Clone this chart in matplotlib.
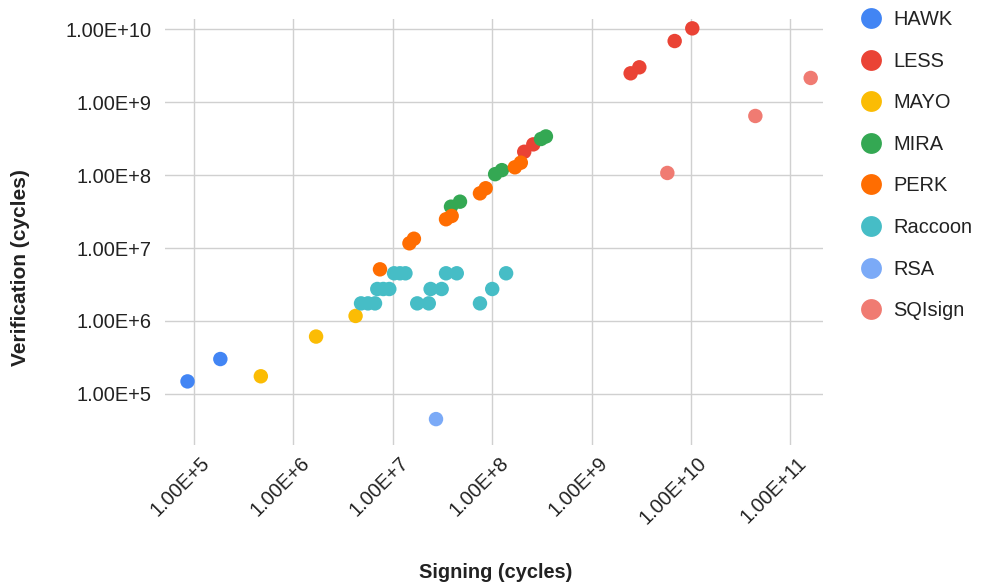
import matplotlib
matplotlib.use("Agg")
import matplotlib.pyplot as plt
from matplotlib.lines import Line2D
from matplotlib.transforms import ScaledTranslation

plt.rcParams['font.family'] = ['Liberation Sans', 'DejaVu Sans']

series_names = ["HAWK", "LESS", "MAYO", "MIRA", "PERK", "Raccoon", "RSA", "SQIsign"]
colors = ["#4285F4", "#EA4335", "#FBBC04", "#34A853", "#FF6D01", "#46BDC6", "#7BAAF7", "#F07B72"]

hawk_sign = [8.6e4, 1.84e5]
hawk_verif = [1.48e5, 3.0e5]

less_sign = [2.1e8, 2.59e8, 2.47e9, 3.02e9, 6.85e9, 1.03e10]
less_verif = [2.09e8, 2.64e8, 2.49e9, 3.01e9, 6.9e9, 1.03e10]

mayo_sign = [4.7e5, 1.69e6, 4.22e6]
mayo_verif = [1.74e5, 6.1e5, 1.17e6]

mira_sign = [3.85e7, 4.74e7, 1.07e8, 1.25e8, 3.1e8, 3.47e8]
mira_verif = [3.69e7, 4.32e7, 1.03e8, 1.17e8, 3.13e8, 3.39e8]

perk_sign = [7.43e6, 1.47e7, 1.63e7, 3.43e7, 3.91e7, 7.53e7, 8.6e7, 1.69e8, 1.94e8]
perk_verif = [5.1e6, 1.16e7, 1.34e7, 2.48e7, 2.75e7, 5.62e7, 6.6e7, 1.28e8, 1.48e8]

raccoon_sign = [4.79e6, 5.62e6, 6.62e6, 1.76e7, 2.30e7, 7.53e7,
                6.98e6, 8.02e6, 9.22e6, 2.40e7, 3.10e7, 1.0e8,
                1.03e7, 1.18e7, 1.34e7, 3.43e7, 4.40e7, 1.38e8]
raccoon_verif = [1.74e6, 1.74e6, 1.74e6, 1.74e6, 1.74e6, 1.74e6,
                 2.74e6, 2.74e6, 2.74e6, 2.74e6, 2.74e6, 2.74e6,
                 4.5e6, 4.5e6, 4.5e6, 4.5e6, 4.5e6, 4.5e6]

rsa_sign = [2.72e7]
rsa_verif = [4.5e4]

sqisign_sign = [5.78e9, 4.44e10, 1.6e11]
sqisign_verif = [1.07e8, 6.47e8, 2.15e9]

x_ticks = [1e5, 1e6, 1e7, 1e8, 1e9, 1e10, 1e11]
y_ticks = [1e5, 1e6, 1e7, 1e8, 1e9, 1e10]
x_tick_labels = ["1.00E+5", "1.00E+6", "1.00E+7", "1.00E+8", "1.00E+9", "1.00E+10", "1.00E+11"]
y_tick_labels = ["1.00E+5", "1.00E+6", "1.00E+7", "1.00E+8", "1.00E+9", "1.00E+10"]

data = [(hawk_sign, hawk_verif), (less_sign, less_verif), (mayo_sign, mayo_verif),
        (mira_sign, mira_verif), (perk_sign, perk_verif), (raccoon_sign, raccoon_verif),
        (rsa_sign, rsa_verif), (sqisign_sign, sqisign_verif)]

fig = plt.figure(figsize=(9.84, 5.88), dpi=100)
ax = fig.add_axes([165/984, 1-445/588, (823-165)/984, (445-19.3)/588])

for (xs, ys), c, name in zip(data, colors, series_names):
    ax.scatter(xs, ys, s=108, color=c, edgecolors='none', zorder=3, label=name)

ax.set_xscale('log')
ax.set_yscale('log')
ax.set_xlim(10**4.708, 10**11.328)
ax.set_ylim(10**4.298, 10**10.137)

ax.set_xticks(x_ticks)
ax.set_xticklabels(x_tick_labels)
ax.set_yticks(y_ticks)
ax.set_yticklabels(y_tick_labels)
ax.minorticks_off()
ax.tick_params(axis='both', length=0, labelsize=14.4, colors='#222222')
ax.tick_params(axis='y', pad=9.5)
ax.tick_params(axis='x', pad=6)

for lbl in ax.get_xticklabels():
    lbl.set_rotation(45)
    lbl.set_ha('right')
    lbl.set_va('center')
    lbl.set_rotation_mode('anchor')
    lbl.set_transform(lbl.get_transform() + ScaledTranslation(13/100, -7/100, fig.dpi_scale_trans))

ax.grid(True, color='#d0d0d0', linewidth=1.0, zorder=0)
ax.set_axisbelow(True)
for sp in ax.spines.values():
    sp.set_visible(False)

fig.text(496/984, 1-573/588, "Signing (cycles)", ha='center', va='center',
         fontsize=14.4, fontweight='bold', color='#222222')
fig.text(21/984, 1-268/588, "Verification (cycles)", ha='center', va='center',
         rotation=90, fontsize=15, fontweight='bold', color='#222222')

handles = [Line2D([0], [0], marker='o', linestyle='none', markersize=15,
                  markerfacecolor=c, markeredgecolor='none') for c in colors]
fig.legend(handles, series_names, loc='upper left', bbox_to_anchor=(861/984, 1-10/588),
           frameon=False, fontsize=14.4, labelspacing=1.13, handlelength=1.0,
           handletextpad=0.6, borderaxespad=0, borderpad=0, labelcolor='#222222')

fig.savefig("out.png", dpi=100)
